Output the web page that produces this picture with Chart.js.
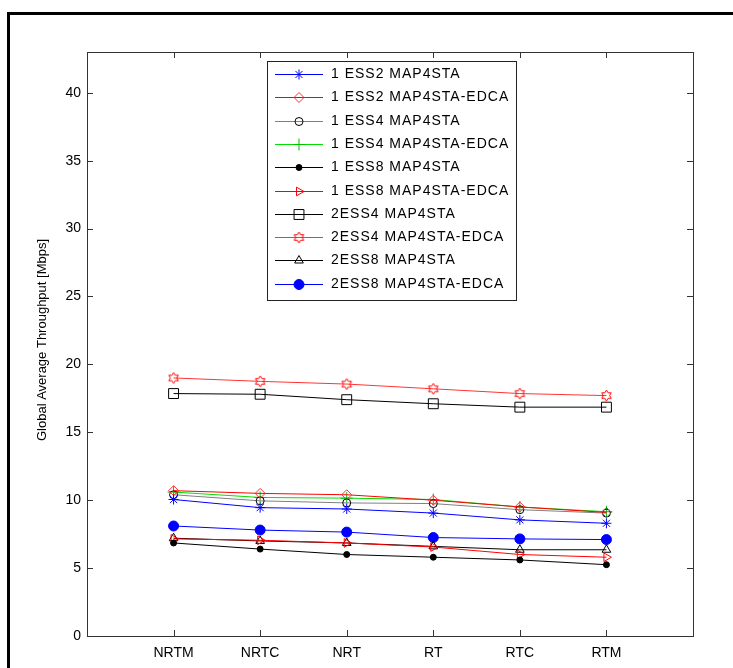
<!DOCTYPE html>
<html>
<head>
<meta charset="utf-8">
<title>Global Average Throughput</title>
<script src="https://cdn.jsdelivr.net/npm/chart.js@4.4.1/dist/chart.umd.min.js"></script>
<style>
  body { margin: 0; background: #fff; }
  #wrap { position: relative; width: 733px; height: 668px; }
</style>
</head>
<body>
<div id="wrap"><canvas id="thrChart" width="733" height="668"></canvas></div>
<script>
// categories on the x axis
const categories = ['NRTM', 'NRTC', 'NRT', 'RT', 'RTC', 'RTM'];
const yTicks = [0, 5, 10, 15, 20, 25, 30, 35, 40];

// series values (Mbps)
const ess1Map2 = [10.05, 9.45, 9.35, 9.05, 8.55, 8.3];
const ess1Map2Edca = [10.7, 10.5, 10.4, 10.0, 9.5, 9.1];
const ess1Map4 = [10.4, 9.95, 9.8, 9.75, 9.3, 9.05];
const ess1Map4Edca = [10.6, 10.2, 10.15, 10.05, 9.5, 9.15];
const ess1Map8 = [6.85, 6.4, 6.0, 5.8, 5.6, 5.25];
const ess1Map8Edca = [7.15, 7.05, 6.85, 6.55, 6.0, 5.8];
const ess2Map4 = [17.85, 17.8, 17.4, 17.1, 16.85, 16.85];
const ess2Map4Edca = [19.0, 18.75, 18.55, 18.2, 17.85, 17.7];
const ess2Map8 = [7.2, 7.0, 6.85, 6.6, 6.35, 6.35];
const ess2Map8Edca = [8.1, 7.8, 7.65, 7.25, 7.15, 7.1];

// hexagram marker (matlab 'h') as a small canvas
function hexagram(color) {
    const c = document.createElement('canvas');
    c.width = 13; c.height = 13;
    const g = c.getContext('2d');
    g.strokeStyle = color;
    g.lineWidth = 1;
    const r = 5.5, cx = 6.5, cy = 6.5;
    g.beginPath();
    for (let k = 0; k < 12; k++) {
        const a = -Math.PI / 2 + k * Math.PI / 6;
        const rr = k % 2 === 0 ? r : r * 0.58;
        const px = cx + rr * Math.cos(a), py = cy + rr * Math.sin(a);
        if (k === 0) g.moveTo(px, py); else g.lineTo(px, py);
    }
    g.closePath();
    g.stroke();
    return c;
}

function series(label, values, line, marker, style, radius, fill, rotation) {
    return {
        label: label,
        data: values.map((v, i) => ({ x: i + 1, y: v })),
        borderColor: line,
        borderWidth: 1,
        pointStyle: style,
        pointRadius: radius,
        pointRotation: rotation || 0,
        pointBorderColor: marker,
        pointBackgroundColor: fill ? marker : 'rgba(0,0,0,0)',
        pointBorderWidth: 1,
        tension: 0,
        fill: false
    };
}

const datasets = [
    series('1 ESS2 MAP4STA', ess1Map2, '#0000ff', '#0000ff', 'star', 5, false),
    series('1 ESS2 MAP4STA-EDCA', ess1Map2Edca, '#ff0000', '#ff3030', 'rectRot', 5, false),
    series('1 ESS4 MAP4STA', ess1Map4, '#808080', '#000000', 'circle', 4, false),
    series('1 ESS4 MAP4STA-EDCA', ess1Map4Edca, '#00e000', '#00c000', 'cross', 6, false),
    series('1 ESS8 MAP4STA', ess1Map8, '#000000', '#000000', 'circle', 3, true),
    series('1 ESS8 MAP4STA-EDCA', ess1Map8Edca, '#ff0000', '#ff0000', 'triangle', 5, false, 90),
    series('2ESS4 MAP4STA', ess2Map4, '#000000', '#000000', 'rect', 7, false),
    series('2ESS4 MAP4STA-EDCA', ess2Map4Edca, '#ff3333', '#ff0000', hexagram('#ff0000'), 5, false),
    series('2ESS8 MAP4STA', ess2Map8, '#000000', '#000000', 'triangle', 5, false),
    series('2ESS8 MAP4STA-EDCA', ess2Map8Edca, '#0000ff', '#0000ff', 'circle', 5, true)
];

const FONT = '"Liberation Sans", Arial, sans-serif';

// outer frame, axes box with inward ticks, y title, legend
const matlabLook = {
    id: 'matlabLook',
    afterDraw(chart) {
        const ctx = chart.ctx;
        const a = chart.chartArea;
        const xs = chart.scales.x, ys = chart.scales.y;
        ctx.save();

        // page frame
        ctx.fillStyle = '#000';
        ctx.fillRect(7, 12, 733, 3);
        ctx.fillRect(7, 12, 3, 668);

        // axes box
        ctx.strokeStyle = '#333';
        ctx.lineWidth = 1;
        ctx.strokeRect(Math.round(a.left) + 0.5, Math.round(a.top) + 0.5,
            Math.round(a.right - a.left), Math.round(a.bottom - a.top));
        ctx.beginPath();
        yTicks.forEach(v => {
            const y = Math.round(ys.getPixelForValue(v)) + 0.5;
            ctx.moveTo(a.left, y); ctx.lineTo(a.left + 6, y);
            ctx.moveTo(a.right, y); ctx.lineTo(a.right - 6, y);
        });
        categories.forEach((c, i) => {
            const x = Math.round(xs.getPixelForValue(i + 1)) + 0.5;
            ctx.moveTo(x, a.bottom); ctx.lineTo(x, a.bottom - 6);
            ctx.moveTo(x, a.top); ctx.lineTo(x, a.top + 6);
        });
        ctx.stroke();

        // y title
        ctx.fillStyle = '#000';
        ctx.font = '13px ' + FONT;
        ctx.textAlign = 'center';
        ctx.textBaseline = 'middle';
        ctx.translate(42, (a.top + a.bottom) / 2 - 4);
        ctx.rotate(-Math.PI / 2);
        ctx.fillText('Global Average Throughput [Mbps]', 0, 0);
        ctx.setTransform(1, 0, 0, 1, 0, 0);

        // legend
        const lx = 267, ly = 61, lw = 249, lh = 239;
        ctx.fillStyle = '#fff';
        ctx.fillRect(lx, ly, lw, lh);
        ctx.strokeStyle = '#222';
        ctx.strokeRect(lx + 0.5, ly + 0.5, lw, lh);
        ctx.font = '14px ' + FONT;
        ctx.textAlign = 'left';
        chart.data.datasets.forEach((ds, i) => {
            const y = Math.round(ly + 13 + i * 23.3) + 0.5;
            ctx.strokeStyle = ds.borderColor;
            ctx.lineWidth = 1;
            ctx.beginPath();
            ctx.moveTo(275, y); ctx.lineTo(323, y);
            ctx.stroke();
            if (Chart.helpers && Chart.helpers.drawPoint) {
                ctx.fillStyle = ds.pointBackgroundColor;
                ctx.strokeStyle = ds.pointBorderColor;
                Chart.helpers.drawPoint(ctx, {
                    pointStyle: ds.pointStyle,
                    rotation: ds.pointRotation,
                    radius: ds.pointRadius,
                    borderWidth: 1
                }, 299, y);
            }
            ctx.fillStyle = '#000';
            ctx.letterSpacing = '1px';
            ctx.fillText(ds.label, 331, y);
            ctx.letterSpacing = '0px';
        });
        ctx.restore();
    }
};

new Chart(document.getElementById('thrChart'), {
    type: 'line',
    data: { datasets: datasets },
    options: {
        responsive: false,
        animation: false,
        layout: { padding: { top: 52, right: 40, left: 0, bottom: 0 } },
        plugins: { legend: { display: false }, tooltip: { enabled: false } },
        scales: {
            x: {
                type: 'linear',
                min: 0,
                max: 7,
                grid: { display: false },
                border: { display: false },
                afterBuildTicks: s => { s.ticks = categories.map((c, i) => ({ value: i + 1 })); },
                afterFit: s => { s.height = 32; },
                ticks: {
                    padding: 1,
                    color: '#000',
                    font: { family: FONT, size: 14 },
                    maxRotation: 0,
                    callback: v => categories[v - 1]
                }
            },
            y: {
                min: 0,
                max: 43,
                grid: { display: false },
                border: { display: false },
                afterBuildTicks: s => { s.ticks = yTicks.map(v => ({ value: v })); },
                afterFit: s => { s.width = 87; },
                ticks: {
                    padding: -2,
                    color: '#000',
                    font: { family: FONT, size: 14 }
                }
            }
        }
    },
    plugins: [matlabLook]
});
</script>
</body>
</html>
